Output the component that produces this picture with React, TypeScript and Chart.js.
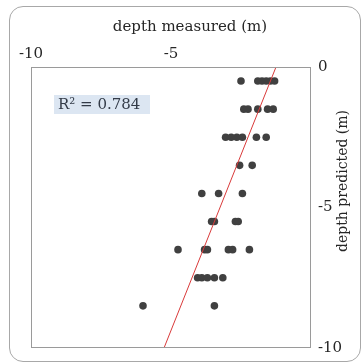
import React, { useEffect, useRef } from "react";
import { Chart, registerables } from "chart.js";

Chart.register(...registerables);

const xTitle = "depth measured (m)";
const yTitle = "depth predicted (m)";
const r2Label = "R² = 0.784";
const axisMin = -10;
const axisMax = 0;
const tickStep = 5;

// depth measured (x) and depth predicted (y) for each sample
const measured = [
  -2.5, -1.9, -1.75, -1.6, -1.45, -1.3,
  -2.4, -2.25, -1.9, -1.55, -1.35,
  -3.05, -2.85, -2.65, -2.45, -1.95, -1.6,
  -2.55, -2.1,
  -3.9, -3.3, -2.45,
  -3.55, -3.45, -2.7, -2.6,
  -4.75, -3.8, -3.7, -2.95, -2.8, -2.2,
  -4.05, -3.9, -3.7, -3.45, -3.15,
  -6.0, -3.45,
];
const predicted = [
  -0.5, -0.5, -0.5, -0.5, -0.5, -0.5,
  -1.5, -1.5, -1.5, -1.5, -1.5,
  -2.5, -2.5, -2.5, -2.5, -2.5, -2.5,
  -3.5, -3.5,
  -4.5, -4.5, -4.5,
  -5.5, -5.5, -5.5, -5.5,
  -6.5, -6.5, -6.5, -6.5, -6.5, -6.5,
  -7.5, -7.5, -7.5, -7.5, -7.5,
  -8.5, -8.5,
];
// linear trend line end points
const trendMeasured = [-1.25, -5.25];
const trendPredicted = [0, -10];

const FONT = "'DejaVu Serif', serif";
const TEXT = "#262626";

const decorPlugin = {
  id: "decor",
  afterDraw(chart: any) {
    const { ctx, chartArea } = chart;
    ctx.save();
    // plot frame
    ctx.strokeStyle = "#9a9a9a";
    ctx.lineWidth = 1;
    ctx.strokeRect(
      Math.round(chartArea.left) + 0.5,
      Math.round(chartArea.top) + 0.5,
      Math.round(chartArea.right - chartArea.left) - 1,
      Math.round(chartArea.bottom - chartArea.top) - 1
    );
    // x title
    ctx.fillStyle = TEXT;
    ctx.font = `15px ${FONT}`;
    ctx.textAlign = "center";
    ctx.textBaseline = "middle";
    ctx.fillText(xTitle, chartArea.left + 159, chartArea.top - 40);
    // y title
    ctx.save();
    ctx.translate(chartArea.right + 32, chartArea.top + 114);
    ctx.rotate(-Math.PI / 2);
    ctx.font = `14px ${FONT}`;
    ctx.fillText(yTitle, 0, 0);
    ctx.restore();
    // R² label box
    ctx.font = `15px ${FONT}`;
    const bx = chartArea.left + 23;
    const by = chartArea.top + 28;
    ctx.fillStyle = "#dce6f2";
    ctx.fillRect(bx, by, 96, 19);
    ctx.fillStyle = "#333b48";
    ctx.textAlign = "left";
    ctx.fillText(r2Label, bx + 4, by + 10);
    ctx.restore();
  },
};

export default function App() {
  const ref = useRef<HTMLCanvasElement | null>(null);
  useEffect(() => {
    if (!ref.current) return;
    const points = measured.map((m, i) => ({ x: m, y: predicted[i] }));
    const trend = trendMeasured.map((m, i) => ({ x: m, y: trendPredicted[i] }));
    const chart = new Chart(ref.current, {
      type: "scatter",
      data: {
        datasets: [
          {
            type: "line",
            data: trend,
            borderColor: "#d93a3a",
            borderWidth: 1,
            pointRadius: 0,
            fill: false,
          } as any,
          {
            data: points,
            backgroundColor: "#404040",
            borderColor: "#404040",
            borderWidth: 0,
            pointRadius: 3.8,
          },
        ],
      },
      options: {
        responsive: false,
        animation: false,
        devicePixelRatio: 1,
        layout: { padding: { left: 31, right: 0, top: 0, bottom: 10 } },
        plugins: {
          legend: { display: false },
          tooltip: { enabled: false },
        },
        scales: {
          x: {
            type: "linear",
            position: "top",
            min: axisMin,
            max: axisMax,
            grid: { display: false, drawTicks: false },
            border: { display: false },
            ticks: {
              stepSize: tickStep,
              padding: 4,
              color: TEXT,
              font: { family: FONT, size: 15 },
              callback: (v: any) => (v === axisMax ? "" : String(v)),
            },
            afterFit: (s: any) => {
              s.height = 67;
            },
          },
          y: {
            type: "linear",
            position: "right",
            min: axisMin,
            max: axisMax,
            grid: { display: false, drawTicks: false },
            border: { display: false },
            ticks: {
              stepSize: tickStep,
              padding: 7,
              color: TEXT,
              font: { family: FONT, size: 15 },
            },
            afterFit: (s: any) => {
              s.width = 53;
            },
          },
        },
      },
      plugins: [decorPlugin],
    });
    return () => chart.destroy();
  }, []);

  return (
    <div
      style={{
        position: "fixed",
        left: 0,
        top: 0,
        width: 364,
        height: 364,
        background: "#fff",
        overflow: "hidden",
      }}
    >
      <div
        style={{
          position: "absolute",
          left: 9,
          top: 6,
          width: 350,
          height: 354,
          border: "1px solid #a8a8a8",
          borderRadius: 14,
        }}
      />
      <canvas ref={ref} width={364} height={364} style={{ position: "absolute", left: 0, top: 0 }} />
    </div>
  );
}
